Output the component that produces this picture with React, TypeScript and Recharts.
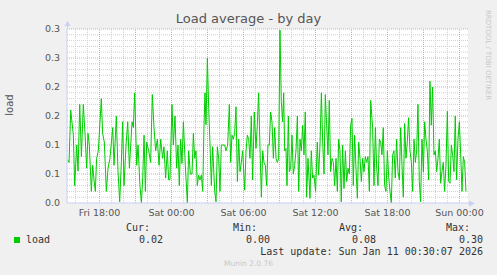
import React from 'react';
import { LineChart, Line, XAxis, YAxis, CartesianGrid, ReferenceLine } from 'recharts';

// hours relative to Sat 00:00
const hours = [
  -8.7, -8.54, -8.4, -8.18, -8.07, -7.9, -7.79, -7.65, -7.51, -7.35, -7.21, -7.07, -6.96, -6.85, -6.68, -6.57,
  -6.46, -6.35, -6.24, -6.1, -5.85, -5.74, -5.6, -5.43, -5.29, -5.13, -4.9, -4.79, -4.6, -4.46, -4.32, -4.18,
  -4.07, -3.96, -3.79, -3.65, -3.51, -3.4, -3.29, -3.18, -3.07, -2.9, -2.79, -2.63, -2.51, -2.4, -2.29, -2.18,
  -2.07, -1.9, -1.74, -1.6, -1.46, -1.32, -1.18, -1.04, -0.9, -0.74, -0.63, -0.49, -0.35,
  -0.24, -0.13, 0.04, 0.15, 0.29, 0.43, 0.54, 0.65, 0.76, 0.875, 0.99, 1.15, 1.32, 1.43, 1.57, 1.71,
  1.82, 1.93, 2.04, 2.15, 2.26, 2.375, 2.49, 2.6, 2.71, 2.79, 2.875, 2.99, 3.1, 3.21, 3.32, 3.43,
  3.6, 3.71, 3.82, 3.93, 4.04, 4.15, 4.26, 4.43, 4.54, 4.68, 4.82, 4.93, 5.04, 5.15, 5.26, 5.375,
  5.49, 5.6, 5.71, 5.82, 5.93, 6.1, 6.21, 6.32, 6.43, 6.54, 6.65, 6.76, 6.9, 7.04, 7.15, 7.26,
  7.375, 7.49, 7.6, 7.71, 7.82, 7.93, 8.04, 8.15,
  8.26, 8.375, 8.49, 8.6, 8.71, 8.82, 8.93, 9.04, 9.15, 9.26, 9.35, 9.43, 9.54, 9.625, 9.74, 9.82,
  9.93, 10.04, 10.15, 10.26, 10.375, 10.49, 10.6, 10.71, 10.82, 10.93, 11.04, 11.15, 11.26, 11.375, 11.54, 11.65,
  11.76, 11.875, 12.01, 12.15, 12.26, 12.375, 12.49, 12.6, 12.71, 12.82, 12.93, 13.04, 13.15, 13.26, 13.375, 13.49,
  13.6, 13.71, 13.82, 13.93, 14.04, 14.15, 14.26, 14.375, 14.49, 14.6, 14.71, 14.82, 14.93, 15.04, 15.15, 15.26,
  15.375, 15.49, 15.6, 15.71, 15.82, 15.93, 16.04, 16.15, 16.26, 16.375, 16.49, 16.6,
  16.76, 16.875, 16.99, 17.1, 17.21, 17.32, 17.43, 17.54, 17.65, 17.76, 17.875, 17.99, 18.1, 18.21, 18.32, 18.43,
  18.54, 18.65, 18.76, 18.875, 18.99, 19.1, 19.21, 19.32, 19.43, 19.54, 19.65, 19.76, 19.875, 19.99, 20.1, 20.21,
  20.32, 20.43, 20.54, 20.65, 20.76, 20.875, 20.99, 21.1, 21.21, 21.32, 21.43, 21.54, 21.65, 21.76, 21.875, 21.99,
  22.1, 22.21, 22.32, 22.43, 22.54, 22.65, 22.76, 22.875, 22.99, 23.1, 23.21, 23.32, 23.43, 23.54, 23.65, 23.76,
  23.875, 23.99, 24.1, 24.21, 24.32, 24.43, 24.54,
];

const load = [
  0.075, 0.07, 0.16, 0.117, 0.03, 0.1, 0.055, 0.17, 0.08, 0.17, 0.12, 0.06, 0.12, 0.1, 0.02, 0.065,
  0.04, 0.02, 0.077, 0.09, 0.18, 0.12, 0.105, 0.02, 0.06, 0.077, 0.13, 0.065, 0.15, 0.055, 0.002, 0.07,
  0.14, 0.03, 0.1, 0.14, 0.06, 0.1, 0.14, 0.13, 0.19, 0.065, 0.1, 0.03, 0.0, 0.043, 0.117, 0.02,
  0.105, 0.09, 0.07, 0.187, 0.13, 0.09, 0.11, 0.065, 0.11, 0.077, 0.097, 0.043, 0.09,
  0.04, 0.04, 0.17, 0.1, 0.15, 0.06, 0.1, 0.03, 0.11, 0.068, 0.14, 0.065, 0.0, 0.09, 0.05, 0.05,
  0.12, 0.077, 0.09, 0.03, 0.048, 0.04, 0.048, 0.02, 0.135, 0.19, 0.135, 0.25, 0.163, 0.1, 0.03, 0.097,
  0.02, 0.002, 0.097, 0.077, 0.02, 0.1, 0.1, 0.1, 0.09, 0.1, 0.17, 0.07, 0.117, 0.11, 0.12, 0.166,
  0.037, 0.11, 0.054, 0.07, 0.09, 0.022, 0.09, 0.117, 0.11, 0.077, 0.15, 0.04, 0.157, 0.094, 0.134, 0.19,
  0.094, 0.01, 0.09, 0.07, 0.065, 0.03, 0.1, 0.1,
  0.157, 0.14, 0.077, 0.13, 0.077, 0.07, 0.077, 0.298, 0.175, 0.14, 0.19, 0.09, 0.094, 0.03, 0.15, 0.054,
  0.06, 0.117, 0.05, 0.065, 0.09, 0.15, 0.02, 0.11, 0.09, 0.134, 0.083, 0.157, 0.01, 0.077, 0.008, 0.09,
  0.043, 0.048, 0.02, 0.105, 0.048, 0.1, 0.19, 0.105, 0.05, 0.187, 0.134, 0.083, 0.177, 0.054, 0.077, 0.07,
  0.03, 0.077, 0.02, 0.11, 0.09, 0.002, 0.1, 0.025, 0.09, 0.037, 0.06, 0.05, 0.134, 0.146, 0.03, 0.117,
  0.06, 0.008, 0.105, 0.077, 0.037, 0.077, 0.054, 0.08, 0.07, 0.08, 0.02, 0.177,
  0.13, 0.03, 0.13, 0.06, 0.03, 0.11, 0.105, 0.083, 0.13, 0.03, 0.02, 0.09, 0.045, 0.02, 0.0, 0.083,
  0.09, 0.043, 0.11, 0.054, 0.04, 0.13, 0.065, 0.01, 0.137, 0.077, 0.105, 0.147, 0.09, 0.07, 0.02, 0.11,
  0.07, 0.09, 0.17, 0.037, 0.002, 0.11, 0.054, 0.14, 0.11, 0.09, 0.04, 0.21, 0.134, 0.2, 0.083, 0.09,
  0.054, 0.077, 0.11, 0.034, 0.054, 0.07, 0.02, 0.065, 0.158, 0.037, 0.034, 0.1, 0.083, 0.054, 0.15, 0.04,
  0.11, 0.14, 0.083, 0.02, 0.08, 0.07, 0.02,
];

const xTicks = [-6, 0, 6, 12, 18, 24];
const xTickLabels = ['Fri 18:00', 'Sat 00:00', 'Sat 06:00', 'Sat 12:00', 'Sat 18:00', 'Sun 00:00'];
const yTicks = [0, 0.05, 0.1, 0.15, 0.2, 0.25, 0.3];
const yTickLabels = ['0.0', '0.1', '0.1', '0.2', '0.2', '0.3', '0.3'];

const stats = [
  { name: 'Cur:', value: '0.02', right: 150 },
  { name: 'Min:', value: '0.00', right: 257 },
  { name: 'Avg:', value: '0.08', right: 363 },
  { name: 'Max:', value: '0.30', right: 470 },
];

const data = hours.map((h, i) => ({ h, load: load[i] }));

// grid: every 0.01 / every hour, red every 0.05 / every 3 hours
const gridY = Array.from({ length: 31 }, (_, i) => i);
const gridX = Array.from({ length: 33 }, (_, i) => i - 8);

const SANS = '"DejaVu Sans", sans-serif';
const MONO = '"DejaVu Sans Mono", monospace';
const AXIS = '#c9cff5';
const MINOR = '#cfcfcf';
const MAJOR = '#e6a3a3';

const mono: React.CSSProperties = {
  position: 'absolute',
  fontFamily: MONO,
  fontSize: 10,
  lineHeight: '12px',
  color: '#333',
  whiteSpace: 'pre',
};

export default function App() {
  return (
    <div style={{ position: 'absolute', left: 0, top: 0, width: 497, height: 275, background: '#f0f0f0', overflow: 'hidden' }}>
      <LineChart width={497} height={275} data={data} margin={{ top: 29, right: 29, bottom: 0, left: 0 }}>
        <CartesianGrid horizontal={false} vertical={false} fill="#ffffff" />
        {gridY.filter((i) => i % 5 !== 0).map((i) => (
          <ReferenceLine key={'my' + i} y={i / 100} stroke={MINOR} strokeDasharray="1 1" />
        ))}
        {gridX.filter((h) => h % 3 !== 0).map((h) => (
          <ReferenceLine key={'mx' + h} x={h} stroke={MINOR} strokeDasharray="1 1" />
        ))}
        {gridY.filter((i) => i % 5 === 0 && i > 0).map((i) => (
          <ReferenceLine key={'My' + i} y={i / 100} stroke={MAJOR} strokeDasharray="1 1" />
        ))}
        {gridX.filter((h) => h % 3 === 0).map((h) => (
          <ReferenceLine key={'Mx' + h} x={h} stroke={MAJOR} strokeDasharray="1 1" />
        ))}
        <XAxis
          dataKey="h"
          type="number"
          domain={[-8.71, 24.71]}
          allowDataOverflow
          ticks={xTicks}
          tickFormatter={(v) => xTickLabels[xTicks.indexOf(v)]}
          height={72}
          tickLine={false}
          tickSize={4}
          axisLine={{ stroke: AXIS }}
          tick={{ fill: '#555', fontSize: 9.5, fontFamily: SANS }}
        />
        <YAxis
          type="number"
          domain={[0, 0.3]}
          ticks={yTicks}
          tickFormatter={(v) => yTickLabels[yTicks.indexOf(v)]}
          width={67}
          tickLine={false}
          tickSize={5}
          axisLine={{ stroke: AXIS }}
          tick={{ fill: '#555', fontSize: 9.5, fontFamily: SANS }}
        />
        <Line type="linear" dataKey="load" stroke="#00cc00" strokeWidth={1} dot={false} isAnimationActive={false} />
      </LineChart>

      <svg width={497} height={275} style={{ position: 'absolute', left: 0, top: 0, pointerEvents: 'none' }}>
        <line x1={67.5} y1={29} x2={67.5} y2={24} stroke={AXIS} />
        <polygon points="64.5,26 70.5,26 67.5,21" fill={AXIS} />
        <line x1={468} y1={203.5} x2={471} y2={203.5} stroke={AXIS} />
        <polygon points="469,200.5 469,206.5 475,203.5" fill={AXIS} />
      </svg>

      <div style={{ position: 'absolute', left: 0, width: 497, top: 11, textAlign: 'center', fontFamily: SANS, fontSize: 13, lineHeight: '16px', color: '#555' }}>
        Load average - by day
      </div>
      <div style={{ position: 'absolute', left: 10, top: 105, transform: 'translate(-50%, -50%) rotate(-90deg)', fontFamily: SANS, fontSize: 10, lineHeight: '12px', color: '#555' }}>
        load
      </div>
      <div style={{ position: 'absolute', left: 488, top: 55, transform: 'translate(-50%, -50%) rotate(90deg)', fontFamily: SANS, fontSize: 7, lineHeight: '8px', color: '#c8c8c8', whiteSpace: 'pre' }}>
        RRDTOOL / TOBI OETIKER
      </div>

      {stats.map((s) => (
        <React.Fragment key={s.name}>
          <div style={{ ...mono, right: 497 - s.right, top: 222 }}>{s.name}</div>
          <div style={{ ...mono, right: 497 - s.right - 13, top: 234 }}>{s.value}</div>
        </React.Fragment>
      ))}
      <div style={{ position: 'absolute', left: 14, top: 237, width: 6, height: 6, background: '#00cc00' }} />
      <div style={{ ...mono, left: 26, top: 234 }}>load</div>
      <div style={{ ...mono, right: 497 - 483, top: 246 }}>Last update: Sun Jan 11 00:30:07 2026</div>
      <div style={{ position: 'absolute', left: 0, width: 497, top: 259, textAlign: 'center', fontFamily: SANS, fontSize: 7.5, lineHeight: '10px', color: '#c8c8c8' }}>
        Munin 2.0.76
      </div>
    </div>
  );
}
